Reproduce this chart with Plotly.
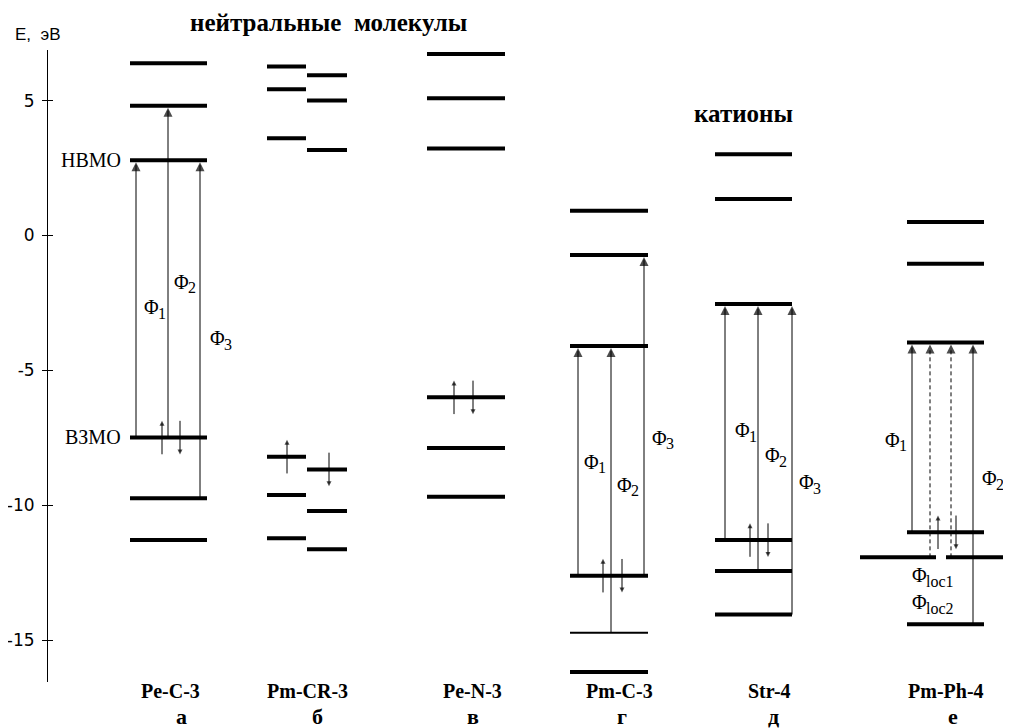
import plotly.graph_objects as go

# ---------------- data ----------------
columns = ["Pe-C-3", "Pm-CR-3", "Pe-N-3", "Pm-C-3", "Str-4", "Pm-Ph-4"]
letters = ["а", "б", "в", "г", "д", "е"]

levels_pe_c3 = [6.38, 4.81, 2.79, -7.49, -9.74, -11.29]
levels_pm_cr3_left = [6.26, 5.42, 3.60, -8.20, -9.62, -11.22]
levels_pm_cr3_right = [5.94, 5.00, 3.17, -8.67, -10.21, -11.63]
levels_pe_n3 = [6.73, 5.09, 3.22, -6.00, -7.88, -9.68]
levels_pm_c3 = [0.92, -0.72, -4.10, -12.61, -14.72, -16.18]
levels_str4 = [3.01, 1.35, -2.54, -11.29, -12.44, -14.05]
levels_pm_ph4 = [0.50, -1.05, -3.97, -11.00, -11.93, -14.41]

# transitions: (from level index, to level index)
trans_pe_c3 = [(3, 2), (3, 1), (4, 2)]
trans_pm_c3 = [(3, 2), (4, 2), (3, 1)]
trans_str4 = [(3, 2), (4, 2), (5, 2)]
trans_pm_ph4 = [(3, 2), (5, 2)]
trans_pm_ph4_loc = [(4, 2), (4, 2)]

tick_vals = [5, 0, -5, -10, -15]
tick_text = ["5", "0", "-5", "-10", "-15"]

y_axis_title = "E,  эВ"
group_neutral = "нейтральные  молекулы"
group_cation = "катионы"
lumo_label = "НВМО"
homo_label = "ВЗМО"

# ---------------- layout / geometry ----------------
# the page adds an 8px body margin; reference pixel coordinates are shifted by OFF
OFF = 8
REF_W, REF_H = 1011, 728
W, H = REF_W - OFF, REF_H - OFF
SERIF = "'Times New Roman', 'Liberation Serif', 'DejaVu Serif', serif"
SANS = "'DejaVu Sans', sans-serif"

y_lo, y_hi = -16.55, 6.875
AXIS_TOP, AXIS_BOT = 50, 682
PX_PER_E = (AXIS_BOT - AXIS_TOP) / (y_hi - y_lo)
STAND = 2 / PX_PER_E


def paper_y(py):
    return 1 - (py - OFF) / H


shapes = []
ann = []
arrow_x, arrow_y = [], []
dash_x, dash_y = [], []
head_x, head_y, head_sym, head_size = [], [], [], []


def level(x0, x1, e, w=4):
    shapes.append(dict(type="line", xref="x", yref="y", x0=x0, x1=x1, y0=e, y1=e,
                       line=dict(color="black", width=w)))


def arrow(x, e_from, e_to, size=9, dashed=False):
    up = e_to > e_from
    tip = e_to - STAND if up else e_to + STAND
    if dashed:
        dash_x.extend([x, x, None])
        dash_y.extend([e_from, tip - (0.2 if up else -0.2), None])
    else:
        arrow_x.extend([x, x, None])
        arrow_y.extend([e_from, tip - (0.1 if up else -0.1), None])
    head_x.append(x)
    head_y.append(tip)
    head_sym.append("arrow-up" if up else "arrow-down")
    head_size.append(size)


def spins(e, xu=None, xd=None):
    if xu is not None:
        arrow(xu, e - 0.62, e + 0.70, size=5)
    if xd is not None:
        arrow(xd, e + 0.62, e - 0.70, size=5)


def label(px, py, text, size=18, anchor="left", bold=False, family=SERIF):
    t = f"<b>{text}</b>" if bold else text
    ann.append(dict(x=px, y=paper_y(py), xref="x", yref="paper", text=t, showarrow=False,
                    xanchor=anchor, yanchor="middle",
                    font=dict(family=family, size=size, color="black")))


# column а
for e in levels_pe_c3:
    level(130, 207, e)
for xp, (f, t) in zip([136, 168, 200], trans_pe_c3):
    arrow(xp, levels_pe_c3[f], levels_pe_c3[t])
spins(levels_pe_c3[3], 162, 180)

# column б
for e in levels_pm_cr3_left:
    level(267, 306, e)
for e in levels_pm_cr3_right:
    level(307, 347, e)
spins(levels_pm_cr3_left[3], xu=287)
spins(levels_pm_cr3_right[3], xd=329)

# column в
for e in levels_pe_n3:
    level(427, 505, e)
spins(levels_pe_n3[3], 454, 473)

# column г
for i, e in enumerate(levels_pm_c3):
    level(570, 648, e, w=2 if i == 4 else 4)
for xp, (f, t) in zip([578, 611, 644], trans_pm_c3):
    arrow(xp, levels_pm_c3[f], levels_pm_c3[t])
spins(levels_pm_c3[3], 603, 622)

# column д
for e in levels_str4:
    level(715, 792, e)
for xp, (f, t) in zip([725, 758, 792], trans_str4):
    arrow(xp, levels_str4[f], levels_str4[t])
spins(levels_str4[3], 750, 768)

# column е
for i, e in enumerate(levels_pm_ph4):
    if i == 4:
        level(860, 936, e)
        level(946, 1011, e)
    else:
        level(907, 984, e)
for xp, (f, t) in zip([912, 973], trans_pm_ph4):
    arrow(xp, levels_pm_ph4[f], levels_pm_ph4[t])
for xp, (f, t) in zip([930, 951], trans_pm_ph4_loc):
    arrow(xp, levels_pm_ph4[f], levels_pm_ph4[t], dashed=True)
spins(levels_pm_ph4[3], 938, 956)

# Φ labels: (subscript, left x, centre y of Φ)
phi = [("1", 142, 307), ("2", 172, 282), ("3", 208, 338),
       ("1", 582, 462), ("2", 615, 485), ("3", 650, 438),
       ("1", 733, 430), ("2", 763, 455), ("3", 797, 482),
       ("1", 883, 440), ("2", 980, 478),
       ("loc1", 910, 575), ("loc2", 910, 602)]
for sub, x, y in phi:
    label(x, y, "Φ", size=20)
    label(x + 14, y + 6, sub, size=16)

label(123, 160, lumo_label, size=20, anchor="right")
label(123, 437, homo_label, size=20, anchor="right")

name_x = [170, 307, 472, 619, 769, 946]
letter_x = [181, 317, 473, 622, 773, 953]
for n, x in zip(columns, name_x):
    label(x, 691, n, size=20, anchor="center", bold=True)
for l, x in zip(letters, letter_x):
    label(x, 716, l, size=22, anchor="center", bold=True)

label(328, 22, group_neutral, size=25, anchor="center", bold=True)
label(743, 113, group_cation, size=25, anchor="center", bold=True)
label(13, 35, y_axis_title, size=17, anchor="left", family="'Liberation Sans', Arial, sans-serif")

fig = go.Figure()
fig.add_trace(go.Scatter(x=arrow_x, y=arrow_y, mode="lines", line=dict(color="black", width=1),
                         hoverinfo="skip", showlegend=False, cliponaxis=False))
fig.add_trace(go.Scatter(x=dash_x, y=dash_y, mode="lines",
                         line=dict(color="black", width=1, dash="4px,3px"),
                         hoverinfo="skip", showlegend=False, cliponaxis=False))
fig.add_trace(go.Scatter(x=head_x, y=head_y, mode="markers",
                         marker=dict(symbol=head_sym, size=head_size, color="black",
                                     line=dict(width=0)),
                         hoverinfo="skip", showlegend=False, cliponaxis=False))
fig.add_trace(go.Scatter(x=[OFF], y=[0], mode="markers", marker=dict(opacity=0),
                         hoverinfo="skip", showlegend=False, yaxis="y2"))

dom = [1 - (AXIS_BOT - OFF) / H, 1 - (AXIS_TOP - OFF) / H]
pos = (47 - OFF) / W
fig.update_layout(
    width=W, height=H,
    margin=dict(l=0, r=0, t=0, b=0),
    paper_bgcolor="white", plot_bgcolor="white",
    showlegend=False,
    shapes=shapes, annotations=ann,
    xaxis=dict(range=[OFF, REF_W], visible=False, fixedrange=True),
    yaxis=dict(range=[y_lo, y_hi], domain=dom, anchor="free", position=pos,
               showline=True, linecolor="black", linewidth=1, showgrid=False, zeroline=False,
               tickmode="array", tickvals=tick_vals, ticktext=tick_text,
               ticks="outside", ticklen=5, tickwidth=1, tickcolor="black",
               ticklabelstandoff=4,
               tickfont=dict(family=SANS, size=17, color="black")),
    yaxis2=dict(range=[y_lo, y_hi], domain=dom, anchor="free", position=pos,
                overlaying="y", showline=False, showgrid=False, zeroline=False,
                tickmode="array", tickvals=tick_vals, showticklabels=False,
                ticks="inside", ticklen=5, tickwidth=1, tickcolor="black"),
)

fig.write_html("out.html")
